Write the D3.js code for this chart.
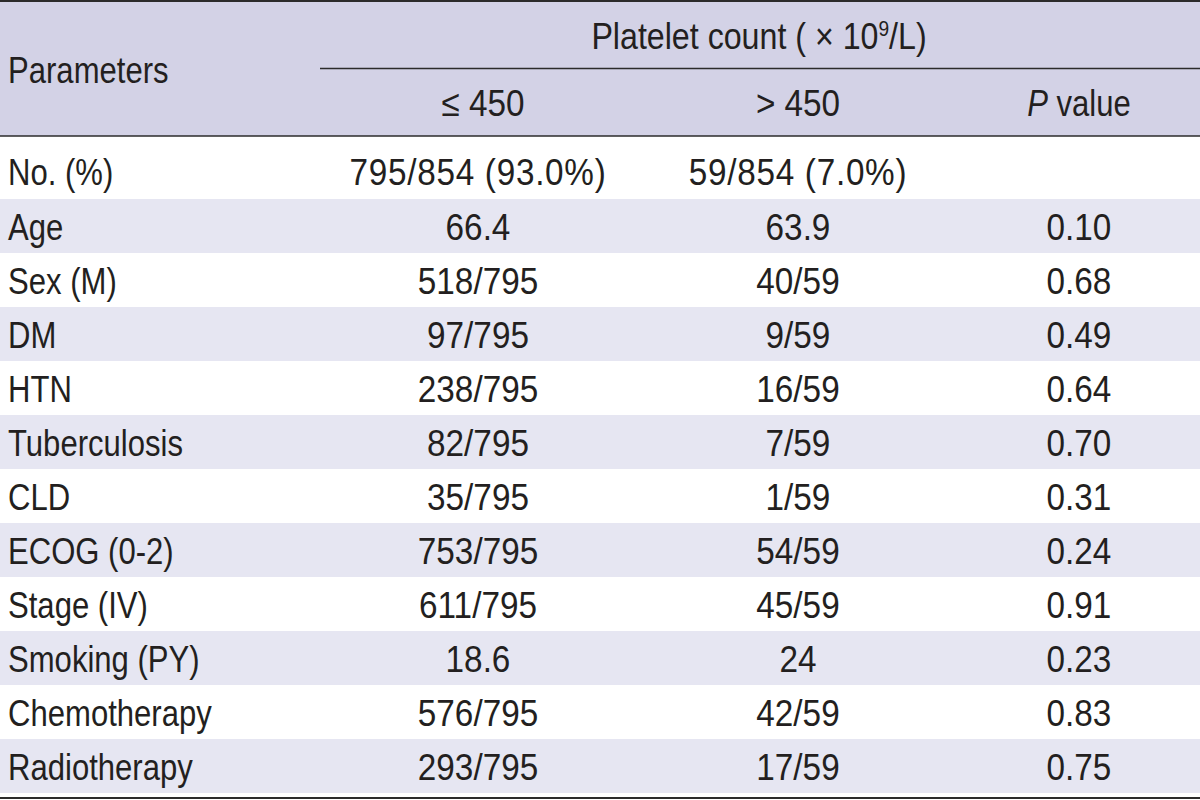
<!DOCTYPE html>
<html><head><meta charset="utf-8">
<script src="https://cdn.jsdelivr.net/npm/d3@7"></script>
<style>
html,body{margin:0;padding:0;background:#fff;}
text{font-family:"Liberation Sans",Arial,sans-serif;fill:#231f20;}
</style></head>
<body><svg id="c" width="1200" height="800"></svg>
<script>
const headerTitle = "Platelet count ( \u00d7 10";
const columns = ["\u2264 450", "> 450", "value"];
const firstRow = ["No. (%)", "795/854 (93.0%)", "59/854 (7.0%)", ""];
const parameters = ["Age","Sex (M)","DM","HTN","Tuberculosis","CLD","ECOG (0-2)","Stage (IV)","Smoking (PY)","Chemotherapy","Radiotherapy"];
const lowGroup = ["66.4","518/795","97/795","238/795","82/795","35/795","753/795","611/795","18.6","576/795","293/795"];
const highGroup = ["63.9","40/59","9/59","16/59","7/59","1/59","54/59","45/59","24","42/59","17/59"];
const pValues = ["0.10","0.68","0.49","0.64","0.70","0.31","0.24","0.91","0.23","0.83","0.75"];

const W = 1200, fs = 37, sxLabel = 0.84, sxNum = 0.9;
const svg = d3.select("#c");
const colX = d3.scaleOrdinal().domain(["low","high","p"]).range([478, 798, 1079]);
const y = d3.scaleBand().domain(parameters).range([199, 793]);

function txt(parent, x, yy, str, anchor, sx, ls) {
  const g = parent.append("g").attr("transform", `translate(${x},${yy}) scale(${sx},1)`);
  const t = g.append("text").attr("dy","0.35em").attr("font-size",fs)
    .attr("text-anchor", anchor || "start").text(str);
  if (ls) t.attr("letter-spacing", ls);
  return t;
}

// backgrounds
svg.append("rect").attr("x",0).attr("y",0).attr("width",W).attr("height",136).attr("fill","#d3d2e6");
svg.append("rect").attr("x",0).attr("y",137).attr("width",W).attr("height",62).attr("fill","#ffffff");
svg.selectAll("rect.row").data(parameters).join("rect").attr("class","row")
  .attr("x",0).attr("y",d=>y(d)).attr("width",W).attr("height",y.bandwidth())
  .attr("fill",(d,i)=> i%2===0 ? "#e6e6f2" : "#ffffff");

// rules
svg.append("line").attr("x1",0).attr("x2",W).attr("y1",1).attr("y2",1).attr("stroke","#2b2b2b").attr("stroke-width",2);
svg.append("line").attr("x1",320).attr("x2",W).attr("y1",68.5).attr("y2",68.5).attr("stroke","#2b2b2b").attr("stroke-width",1.5);
svg.append("line").attr("x1",0).attr("x2",W).attr("y1",136).attr("y2",136).attr("stroke","#2b2b2b").attr("stroke-width",1.5);
svg.append("line").attr("x1",0).attr("x2",W).attr("y1",798).attr("y2",798).attr("stroke","#2b2b2b").attr("stroke-width",2);

// header texts
txt(svg, 8, 70, "Parameters", "start", sxLabel);
const ht = txt(svg, 759, 36, "", "middle", 0.87);
ht.append("tspan").text(headerTitle);
ht.append("tspan").attr("font-size",22).attr("dy",-13).text("9");
ht.append("tspan").attr("dy",13).text("/L)");

txt(svg, 483, 103, columns[0], "middle", sxNum);
txt(svg, colX("high"), 103, columns[1], "middle", sxNum);
const pt = txt(svg, colX("p"), 103, "", "middle", sxLabel);
pt.append("tspan").attr("font-style","italic").text("P");
pt.append("tspan").text(" " + columns[2]);

// first row
const fy = 172;
txt(svg, 8, fy, firstRow[0], "start", sxLabel);
txt(svg, colX("low"), fy, firstRow[1], "middle", sxNum, 0.8);
txt(svg, colX("high"), fy, firstRow[2], "middle", sxNum, 0.8);

// body rows
const rows = parameters.map((p,i)=>({p, low:lowGroup[i], high:highGroup[i], pv:pValues[i]}));
rows.forEach(d => {
  const cy = y(d.p) + y.bandwidth()/2 + 1;
  txt(svg, 8, cy, d.p, "start", sxLabel);
  txt(svg, colX("low"), cy, d.low, "middle", sxNum);
  txt(svg, colX("high"), cy, d.high, "middle", sxNum);
  txt(svg, colX("p"), cy, d.pv, "middle", sxNum);
});
</script></body></html>
